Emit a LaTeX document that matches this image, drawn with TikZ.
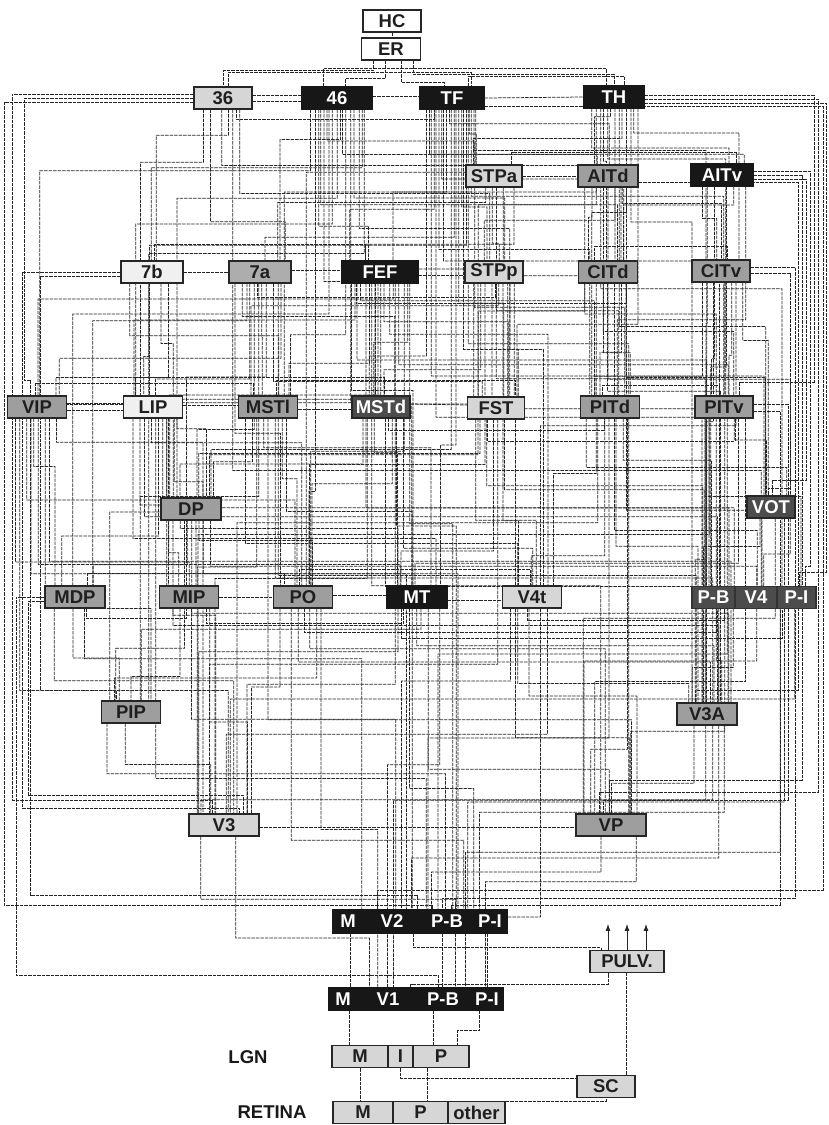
\documentclass[tikz,border=0pt]{standalone}
\usepackage{fontspec}
\setmainfont{Liberation Sans}
\usetikzlibrary{calc,backgrounds,arrows.meta}
\definecolor{cVL}{gray}{0.94}
\definecolor{cLt}{gray}{0.84}
\definecolor{cMd}{gray}{0.62}
\definecolor{cMl}{gray}{0.68}
\definecolor{cDk}{gray}{0.30}
\definecolor{cBk}{gray}{0.09}
\definecolor{cLine}{gray}{0.15}
\tikzset{
 box/.style={draw=black!85, line width=1.2pt, minimum height=22pt, inner sep=0pt,
   font=\bfseries\fontsize{18.5}{19}\selectfont, text=black!88},
 wd/.style={minimum width=#1pt},
 wb/.style={box, fill=white},
 vlb/.style={box, fill=cVL},
 ltb/.style={box, fill=cLt},
 mlb/.style={box, fill=cMl},
 mdb/.style={box, fill=cMd},
 dkb/.style={box, fill=cDk, text=white},
 bkb/.style={box, fill=cBk, draw=cBk, text=white},
 wtxt/.style={inner sep=0pt, font=\bfseries\fontsize{18.5}{19}\selectfont, text=white},
 lbl/.style={inner sep=0pt, font=\bfseries\fontsize{18.5}{19}\selectfont, text=black!90},
 conn/.style={draw=cLine, line width=0.75pt, dash pattern=on 3.5pt off 1pt},
 arr/.style={draw=black!85, line width=0.9pt, -{Latex[length=7pt,width=5pt]}},
}
\begin{document}
\begin{tikzpicture}[x=1pt,y=-1pt]
\useasboundingbox (0,0) rectangle (828,1125);
% ---------- nodes ----------
\node[wb,wd=58] (HC) at (392,21) {HC};
\node[wb,wd=59] (ER) at (391,49) {ER};
\node[ltb,wd=58] (n36) at (223,98) {36};
\node[bkb,wd=70] (n46) at (337,98) {46};
\node[bkb,wd=64] (TF) at (452,98) {TF};
\node[bkb,wd=60] (TH) at (614,97) {TH};
\node[ltb,wd=56] (STPa) at (494,176) {STPa};
\node[mdb,wd=60] (AITd) at (608,176) {AITd};
\node[bkb,wd=62] (AITv) at (722,175) {AITv};
\node[vlb,wd=62] (n7b) at (152,272) {7b};
\node[mlb,wd=62] (n7a) at (260,272) {7a};
\node[bkb,wd=76] (FEF) at (380,272) {FEF};
\node[ltb,wd=58] (STPp) at (494,272) {STPp};
\node[mdb,wd=59] (CITd) at (608,272) {CITd};
\node[mdb,wd=58] (CITv) at (721,271) {CITv};
\node[mdb,wd=59] (VIP) at (37,407) {VIP};
\node[vlb,wd=59] (LIP) at (153,407) {LIP};
\node[mdb,wd=59] (MSTl) at (268,407) {MSTl};
\node[dkb,wd=58] (MSTd) at (381,407) {MSTd};
\node[ltb,wd=57] (FST) at (496,408) {FST};
\node[mdb,wd=59] (PITd) at (610,407) {PITd};
\node[mdb,wd=58] (PITv) at (724,407) {PITv};
\node[mdb,wd=60] (DP) at (191,509) {DP};
\node[dkb,wd=48] (VOT) at (771,507) {VOT};
\node[mdb,wd=60] (MDP) at (75,597) {MDP};
\node[mdb,wd=59] (MIP) at (189,597) {MIP};
\node[mdb,wd=59] (PO) at (303,597) {PO};
\node[bkb,wd=60] (MT) at (417,597) {MT};
\node[ltb,wd=59] (V4t) at (532,597) {V4t};
\node[dkb,wd=43,draw=black!80] (V4PB) at (713.5,597.5) {P-B};
\node[dkb,wd=42,draw=black!80] (V4V) at (756,597.5) {V4};
\node[dkb,wd=39,draw=black!80] (V4PI) at (796.5,597.5) {P-I};
\node[minimum width=124pt, minimum height=22pt, inner sep=0pt] (V4) at (754,597.5) {};
\node[mdb,wd=59] (PIP) at (131,712) {PIP};
\node[mdb,wd=60] (V3A) at (707,714) {V3A};
\node[ltb,wd=70] (V3) at (224,825) {V3};
\node[mdb,wd=70] (VP) at (611,825) {VP};
\node[bkb,wd=174,minimum height=23pt] (V2) at (420,921.5) {};
\node[wtxt] (V2M) at (348,921.5) {M};
\node[wtxt] (V2V) at (392,921.5) {V2};
\node[wtxt] (V2PB) at (447,921.5) {P-B};
\node[wtxt] (V2PI) at (490,921.5) {P-I};
\node[bkb,wd=174] (V1) at (416,999) {};
\node[wtxt] (V1M) at (343,999) {M};
\node[wtxt] (V1V) at (388,999) {V1};
\node[wtxt] (V1PB) at (443,999) {P-B};
\node[wtxt] (V1PI) at (487,999) {P-I};
\node[ltb,wd=74] (PULV) at (627,961.5) {PULV.};
\node[ltb,wd=56] (LGNM) at (360,1056.5) {M};
\node[ltb,wd=25] (LGNI) at (400.5,1056.5) {I};
\node[ltb,wd=56] (LGNP) at (441,1056.5) {P};
\node[lbl] (LGNlab) at (248,1057) {LGN};
\node[ltb,wd=58] (SC) at (606,1086.5) {SC};
\node[ltb,wd=60] (RETM) at (363,1112.5) {M};
\node[ltb,wd=55] (RETP) at (420.5,1112.5) {P};
\node[ltb,wd=57] (RETo) at (476.5,1112.5) {other};
\node[lbl] (RETlab) at (272,1112.5) {RETINA};
% ---------- connectors ----------
\begin{pgfonlayer}{background}
\draw[conn] (HC.south) -- (HC.south |- ER.north);
\draw[conn] ($(ER.south)+(-18,0)$) -- ++(0,10) -| (n36.north);
\draw[conn] ($(ER.south)+(22,0)$) -- ++(0,14) -| (TH.north);
\draw[conn] ($(ER.south)+(-6,0)$) -- ++(0,18) -| ($(n46.north)+(8,0)$);
\draw[conn] ($(ER.south)+(10,0)$) -- ++(0,22) -| ($(TF.north)+(-8,0)$);
% top-to-bottom connections
\foreach \a/\b [count=\i] in {
n36/n7b,n36/n7a,n36/STPp,n36/CITd,n36/LIP,n36/V4V,
n46/STPa,n46/n7b,n46/n7a,n46/FEF,n46/STPp,n46/LIP,n46/VIP,n46/MSTl,n46/MSTd,n46/FST,n46/DP,n46/PO,n46/MIP,n46/MDP,n46/PIP,n46/AITd,n46/CITd,
TF/STPa,TF/AITd,TF/AITv,TF/STPp,TF/CITd,TF/CITv,TF/n7a,TF/FEF,TF/LIP,TF/MSTl,TF/MSTd,TF/FST,TF/PITd,TF/PITv,TF/DP,TF/VOT,TF/V4t,TF/V4,TF/PO,TF/MT,TF/V3A,TF/VP,
TH/AITd,TH/AITv,TH/STPa,TH/CITd,TH/CITv,TH/STPp,TH/FEF,TH/PITd,TH/PITv,TH/FST,TH/VOT,TH/V4,TH/V3A,
STPa/STPp,STPa/FST,STPa/MSTd,STPa/n7a,STPa/FEF,STPa/PITd,
AITd/CITd,AITd/CITv,AITd/PITd,AITd/PITv,AITd/FST,AITd/STPp,AITd/V4,AITd/VOT,
AITv/CITv,AITv/CITd,AITv/PITv,AITv/PITd,AITv/V4,AITv/V3A,
n7b/VIP,n7b/LIP,n7b/MSTl,n7b/DP,
n7a/LIP,n7a/VIP,n7a/MSTl,n7a/MSTd,n7a/FST,n7a/DP,n7a/PO,n7a/MIP,n7a/MDP,n7a/V3A,n7a/PIP,
FEF/LIP,FEF/VIP,FEF/MSTl,FEF/MSTd,FEF/FST,FEF/PITd,FEF/PITv,FEF/DP,FEF/MT,FEF/V4t,FEF/V4,FEF/PO,FEF/MIP,FEF/V3A,FEF/V3,FEF/VP,FEF/V2,
STPp/MSTl,STPp/MSTd,STPp/FST,STPp/MT,STPp/PITd,STPp/V4t,STPp/PO,STPp/V4,STPp/V3A,STPp/DP,
CITd/PITd,CITd/PITv,CITd/FST,CITd/V4,CITd/V4t,CITd/VOT,CITd/V3A,
CITv/PITd,CITv/PITv,CITv/V4,CITv/VOT,CITv/VP,CITv/V3A,CITv/V4t,
VIP/MDP,VIP/MIP,VIP/PIP,VIP/PO,VIP/DP,VIP/MT,VIP/V3,VIP/V3A,VIP/V2,
LIP/DP,LIP/MDP,LIP/MIP,LIP/PIP,LIP/PO,LIP/MT,LIP/V4,LIP/V3A,LIP/V3,LIP/V2,
MSTl/DP,MSTl/PO,MSTl/MT,MSTl/V4t,MSTl/V3A,MSTl/V3,MSTl/V2,MSTl/VP,
MSTd/DP,MSTd/PO,MSTd/MT,MSTd/V4t,MSTd/V3A,MSTd/V3,MSTd/V2,
FST/MT,FST/V4t,FST/V4,FST/V3A,FST/VP,FST/V3,FST/DP,
PITd/V4,PITd/V4t,PITd/VOT,PITd/V3A,PITd/V3,PITd/VP,PITd/V2,
PITv/V4,PITv/VOT,PITv/V3A,PITv/VP,PITv/V2,PITv/V3,PITv/MT,
DP/MDP,DP/MIP,DP/PO,DP/MT,DP/V4,DP/V3A,DP/V3,DP/V2,DP/PIP,
VOT/V4,VOT/VP,VOT/V3A,VOT/V2,
MDP/PIP,MDP/V3,MDP/V2,
MIP/PIP,MIP/V3,MIP/V2,MIP/V3A,
PO/PIP,PO/V3A,PO/V3,PO/VP,PO/V2,PO/V1,
MT/V3A,MT/V3,MT/VP,MT/V2,MT/V1,MT/PIP,
V4t/V3A,V4t/V3,V4t/VP,V4t/V2,V4t/V1,
V4/V3A,V4/V3,V4/VP,V4/V2,V4/V1,
PIP/V3,PIP/V2,
V3A/V3,V3A/VP,V3A/V2,V3A/V1,
V3/V2,V3/V1,
VP/V2,VP/V1}{
  \pgfmathsetmacro\ra{0.1+0.8*mod(\i*0.618034,1)}
  \pgfmathsetmacro\rb{0.1+0.8*mod(\i*0.4142136+0.17,1)}
  \pgfmathsetmacro\rf{0.12+0.76*mod(\i*0.7548777+0.31,1)}
  \coordinate (s) at ($(\a.south west)!\ra!(\a.south east)$);
  \coordinate (t) at ($(\b.north west)!\rb!(\b.north east)$);
  \draw[conn] (s) -- ($(s)!\rf!(s|-t)$) -| (t);
}
% side by side neighbours
\foreach \a/\b/\d in {n36/n46/3,n36/n46/-3,n46/TF/2,TF/TH/0,STPa/AITd/0,
  n7b/n7a/0,n7a/FEF/2,FEF/STPp/-3,VIP/LIP/4,VIP/LIP/-3,LIP/MSTl/2,MSTl/MSTd/-2,
  MSTd/FST/3,MIP/PO/0,PO/MT/2,MT/V4t/-3,V3/VP/-2}{
  \draw[conn] ([yshift=\d pt]\a.east) -- ([yshift=\d pt]\b.west);
}
% routed above a row
\foreach \a/\b/\h [count=\i] in {n36/TF/14,n46/TH/18,TF/TH/10,VIP/MSTl/12,LIP/MSTd/18,
  MSTl/FST/15,PITd/PITv/10,STPa/AITv/12,n7b/FEF/16,CITd/CITv/14,MDP/PO/12,PO/V4t/16}{
  \pgfmathsetmacro\ra{0.15+0.7*mod(\i*0.618034,1)}
  \pgfmathsetmacro\rb{0.15+0.7*mod(\i*0.4142136+0.5,1)}
  \coordinate (s) at ($(\a.north west)!\ra!(\a.north east)$);
  \coordinate (t) at ($(\b.north west)!\rb!(\b.north east)$);
  \draw[conn] (s) -- ++(0,-\h) -| (t);
}
% routed below a row
\foreach \a/\b/\h [count=\i] in {n36/TF/10,n7a/STPp/14,FEF/CITd/20,MSTd/PITd/12,
  FST/PITv/22,MIP/MT/15,PO/V4PB/24,MT/V4PI/30,MDP/MIP/10,V4t/V4PB/12}{
  \pgfmathsetmacro\ra{0.15+0.7*mod(\i*0.618034+0.2,1)}
  \pgfmathsetmacro\rb{0.15+0.7*mod(\i*0.4142136+0.7,1)}
  \coordinate (s) at ($(\a.south west)!\ra!(\a.south east)$);
  \coordinate (t) at ($(\b.south west)!\rb!(\b.south east)$);
  \draw[conn] (s) -- ++(0,\h) -| (t);
}
% right-hand rails
\foreach \a/\b/\X/\Y/\d [count=\i] in {TH/V4PI/826/572/-6,TH/VP/818/792/-2,
  AITv/V4PI/810/566/4,AITv/VP/802/780/0,TF/V2/823/890/-8,CITv/V2/795/898/4,
  PITv/VP/788/800/3,TH/PITv/814/382/2,AITv/VOT/806/480/-4,AITd/V3A/798/690/-6,
  PITv/V2/780/905/-4,CITv/VOT/790/488/-2}{
  \pgfmathsetmacro\rb{0.2+0.6*mod(\i*0.618034,1)}
  \coordinate (s) at ([yshift=\d pt]\a.east);
  \coordinate (t) at ($(\b.north west)!\rb!(\b.north east)$);
  \draw[conn] (s) -| (\X,\Y) -| (t);
}
% left-hand rails
\foreach \a/\b/\X/\Y/\d [count=\i] in {n36/V2/4/905/-4,n36/V3/12/800/4,n7b/V3/22/808/0,
  LIP/V2/30/895/3,n7b/PIP/40/690/-4,MDP/V1/16/975/0,n36/VIP/24/380/0,MDP/V3/28/795/-4}{
  \pgfmathsetmacro\rb{0.2+0.6*mod(\i*0.618034,1)}
  \coordinate (s) at ([yshift=\d pt]\a.west);
  \coordinate (t) at ($(\b.north west)!\rb!(\b.north east)$);
  \draw[conn] (s) -| (\X,\Y) -| (t);
}
% subcortical connections
\draw[conn] ($(V2M |- V2.south)+(2,0)$) -- ($(V2M |- V1.north)+(2,0)$);
\draw[conn] ($(V2PB |- V2.south)+(-5,0)$) -- ($(V2PB |- V1.north)+(-5,0)$);
\draw[conn] ($(V2PI |- V2.south)+(-3,0)$) -- ($(V2PI |- V1.north)+(-3,0)$);
\draw[conn] ($(V2.south west)!0.46!(V2.south east)$) -- ++(0,14) -| ($(PULV.north west)+(12,0)$);
\draw[conn] ($(V1.north west)!0.47!(V1.north east)$) -- ++(0,-3) -| ($(PULV.south)+(-19,0)$);
\draw[conn] ($(V1M |- V1.south)+(6,0)$) -- ($(V1M |- LGNM.north)+(6,0)$);
\draw[conn] ($(V1PB |- V1.south)+(-10,0)$) -- ($(V1PB |- LGNP.north)+(-10,0)$);
\draw[conn] ($(V1PI |- V1.south)+(-8,0)$) -- ++(0,20) -| ($(LGNP.north)+(16,0)$);
\draw[conn] (LGNM.south) -- (LGNM.south |- RETM.north);
\draw[conn] ($(LGNP.south)+(-14,0)$) -- ($(LGNP.south |- RETP.north)+(-14,0)$);
\draw[conn] (LGNI.south) |- ($(SC.west)+(0,-8)$);
\draw[conn] (RETo.north east) -| (SC.south);
\draw[conn] ($(SC.north)+(20,0)$) -- ($(SC.north |- PULV.south)+(20,0)$);
\end{pgfonlayer}
% ---------- pulvinar outputs ----------
\draw[arr] ($(PULV.north)+(-19,0)$) -- ++(0,-26);
\draw[arr] (PULV.north) -- ++(0,-26);
\draw[arr] ($(PULV.north)+(19,0)$) -- ++(0,-26);
\end{tikzpicture}
\end{document}
